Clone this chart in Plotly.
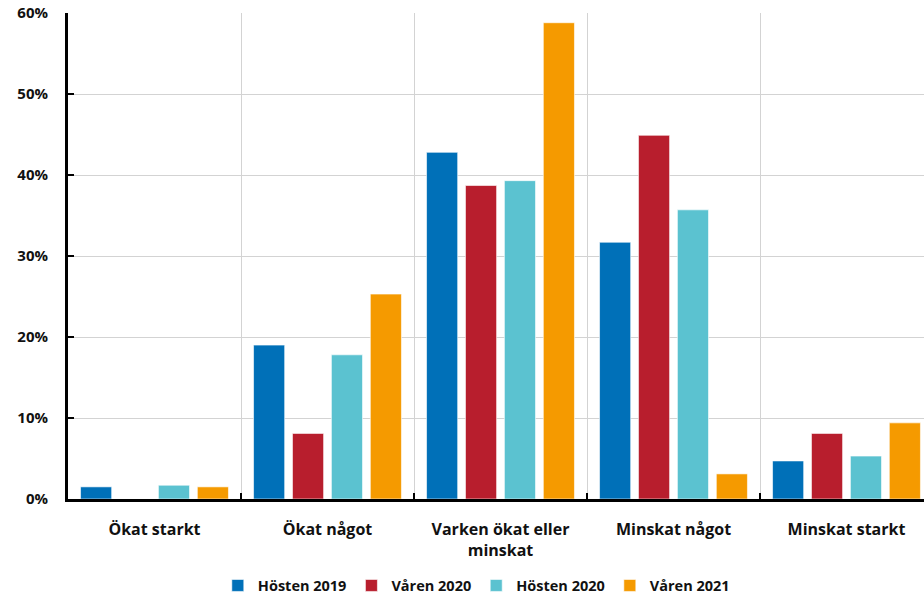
import plotly.graph_objects as go

categories = ["Ökat starkt", "Ökat något", "Varken ökat eller<br>minskat", "Minskat något", "Minskat starkt"]
series_names = ["Hösten 2019", "Våren 2020", "Hösten 2020", "Våren 2021"]
hosten_2019 = [1.5, 19.0, 42.8, 31.7, 4.7]
varen_2020 = [0.0, 8.1, 38.7, 44.9, 8.1]
hosten_2020 = [1.7, 17.8, 39.3, 35.7, 5.3]
varen_2021 = [1.5, 25.3, 58.8, 3.1, 9.4]
y_ticks = [0, 10, 20, 30, 40, 50, 60]

colors = ["#0070B8", "#B81E2D", "#5BC2D0", "#F59A00"]
values = [hosten_2019, varen_2020, hosten_2020, varen_2021]

FONT = "'Open Sans', sans-serif"

fig = go.Figure()
for name, vals, col in zip(series_names, values, colors):
    fig.add_trace(go.Bar(
        x=categories, y=vals, name=name,
        marker=dict(color=col, line=dict(color="rgba(255,255,255,0.6)", width=1)),
    ))

fig.update_layout(
    width=924, height=602,
    margin=dict(l=68, r=0, t=13, b=99),
    paper_bgcolor="white", plot_bgcolor="white",
    barmode="group", bargap=0.1, bargroupgap=0.2,
    font=dict(family=FONT, color="#111111"),
    showlegend=True,
    legend=dict(
        orientation="h", x=0.477, xanchor="center", y=-0.178, yanchor="middle",
        font=dict(size=14.5, family=FONT, color="#111111", weight="bold"),
        itemwidth=30, tracegroupgap=0,
    ),
)

fig.update_xaxes(
    type="category", range=[-0.5, 4.448], automargin=False,
    tickson="boundaries", showgrid=True, gridcolor="#D3D3D3", gridwidth=1,
    ticks="inside", ticklen=6, tickwidth=2, tickcolor="black",
    showline=True, linecolor="black", linewidth=3,
    tickfont=dict(size=16, family=FONT, color="#111111", weight="bold"),
    ticklabelstandoff=14,
)

fig.update_yaxes(
    range=[0, 60], tickvals=y_ticks, ticktext=[f"{v}%" for v in y_ticks],
    automargin=False, ticklabeloverflow="allow",
    showgrid=True, gridcolor="#D3D3D3", gridwidth=1,
    ticks="inside", ticklen=6, tickwidth=2, tickcolor="black",
    showline=True, linecolor="black", linewidth=3,
    tickfont=dict(size=15, family=FONT, color="#111111", weight="bold"),
    ticklabelstandoff=14, zeroline=False,
)

fig.write_html(
    "out.html",
    config={"displayModeBar": False},
    post_script=(
        "var h=document.documentElement,b=document.body;"
        "h.style.margin='0';h.style.overflow='hidden';h.style.height='602px';"
        "b.style.margin='0';b.style.overflow='hidden';b.style.height='602px';"
        "document.querySelectorAll('body > div').forEach(function(d){"
        "d.style.height='602px';d.style.overflow='hidden';});"
    ),
)
